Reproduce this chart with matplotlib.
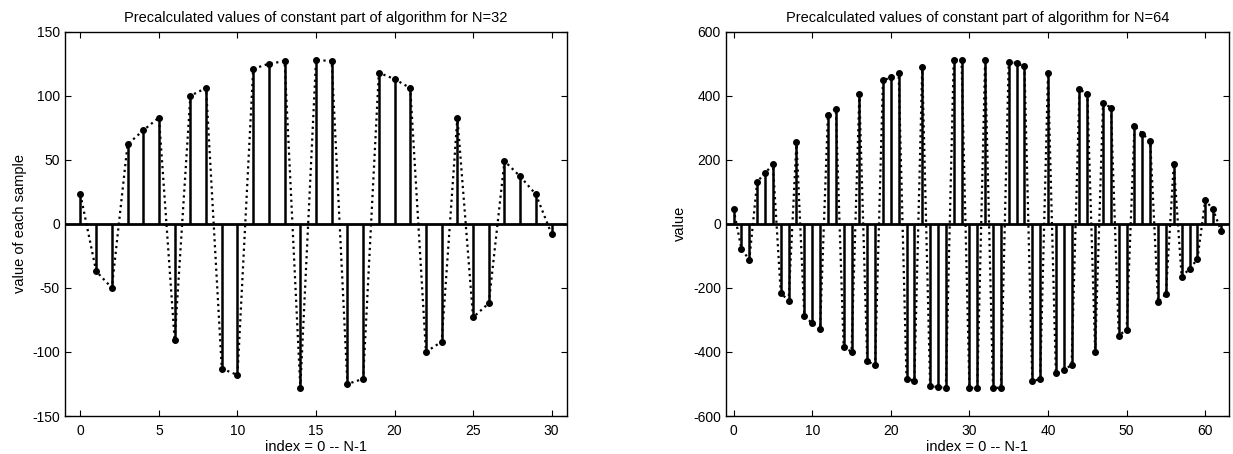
import numpy as np
import matplotlib
matplotlib.use('Agg')
import matplotlib.pyplot as plt

plt.rcParams['font.family'] = ['Liberation Sans', 'DejaVu Sans']
plt.rcParams['axes.unicode_minus'] = False

# values
vals_32 = [23, -37, -50, 62, 73, 83, -91, 100, 106, -113, -118, 121, 125, 127,
           -128, 128, 127, -125, -121, 118, 113, 106, -100, -92, 83, -73, -62,
           49, 37, 23, -8]
vals_64 = [45, -79, -112, 132, 158, 186, -216, -240, 257, -289, -310, -329,
           341, 359, -386, -399, 404, -428, -442, 448, 457, 470, -483, -490,
           491, -506, -510, -512, 512, 512, -512, -512, 512, -512, -512, 506,
           502, 492, -491, -485, 470, -467, -456, -441, 420, 406, -399, 377,
           363, -349, -330, 305, 282, 258, -244, -219, 187, -166, -140, -111,
           74, 45, -21]

titles = ['Precalculated values of constant part of algorithm for N=32',
          'Precalculated values of constant part of algorithm for N=64']
ylabels = ['value of each sample', 'value']
xlabel = 'index = 0 -- N-1'


def stem_panel(ax, vals, xmax, xstep, ylim, ystep, title, ylabel):
    n = np.arange(len(vals))
    ax.vlines(n, 0, vals, color='k', lw=1.8, zorder=2)
    ax.plot(n, vals, ':', color='k', lw=1.6, zorder=3)
    ax.plot(n, vals, 'o', color='k', ms=4, zorder=4)
    ax.axhline(0, color='k', lw=2, zorder=1)
    ax.set_xlim(-1, xmax)
    ax.set_ylim(-ylim, ylim)
    ax.set_xticks(np.arange(0, xmax, xstep))
    ax.set_yticks(np.arange(-ylim, ylim + 1, ystep))
    ax.tick_params(direction='in', top=True, right=True, length=4,
                   labelsize=10, width=0.8)
    ax.tick_params(axis='x', pad=6)
    for s in ax.spines.values():
        s.set_linewidth(1)
    ax.set_title(title, fontsize=10.5, pad=7)
    ax.set_xlabel(xlabel, fontsize=10.5, labelpad=1)
    ax.set_ylabel(ylabel, fontsize=10.5, labelpad=4)


fig = plt.figure(figsize=(12.33, 4.54), dpi=100)
ax1 = fig.add_axes([0.0525, 0.0837, 0.4076, 0.8465])
ax2 = fig.add_axes([0.5886, 0.0837, 0.408, 0.8465])

stem_panel(ax1, vals_32, 31, 5, 150, 50, titles[0], ylabels[0])
stem_panel(ax2, vals_64, 63, 10, 600, 200, titles[1], ylabels[1])

fig.savefig('out.png', dpi=100)
